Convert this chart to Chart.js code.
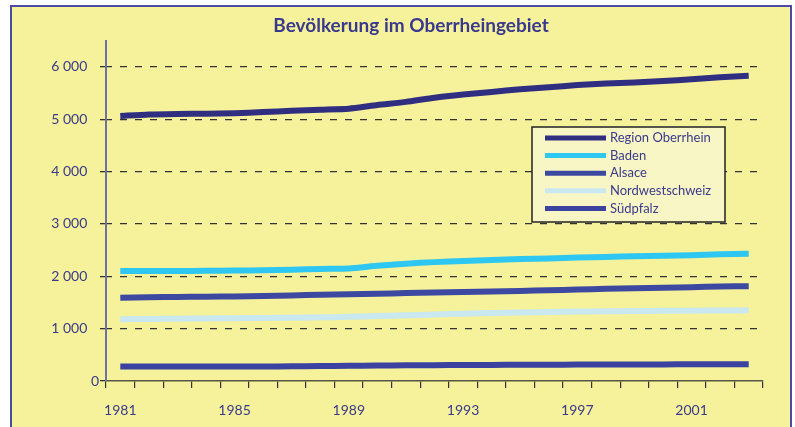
<!DOCTYPE html>
<html>
<head>
<meta charset="utf-8">
<script src="https://cdn.jsdelivr.net/npm/chart.js@4"></script>
<style>
  body { margin: 0; background: #ffffff; }
  #frame {
    position: absolute; left: 10px; top: 5px; width: 778px; height: 430px;
    background: #f6f19b; border-left: 2px solid #4b4ba3; border-top: 2px solid #4b4ba3; border-right: 2px solid #4b4ba3;
  }
  #wrap { position: absolute; left: 0; top: 0; width: 795px; height: 427px; }
</style>
</head>
<body>
<div id="frame"></div>
<div id="wrap"><canvas id="myChart"></canvas></div>
<script>
"use strict"

// years on the x axis, one label every 4 years
const years = ["1981","1982","1983","1984","1985","1986","1987","1988","1989","1990","1991","1992",
               "1993","1994","1995","1996","1997","1998","1999","2000","2001","2002","2003"];

const seriesNames = ["Region Oberrhein", "Baden", "Alsace", "Nordwestschweiz", "Südpfalz"];
const chartTitle = "Bevölkerung im Oberrheingebiet";

// population in thousands
const regionOberrhein = [5060,5090,5100,5105,5115,5135,5160,5180,5200,5270,5330,5410,5470,5520,5570,5610,5650,5680,5700,5730,5760,5800,5830];
const baden = [2100,2100,2100,2105,2110,2115,2125,2140,2150,2200,2240,2270,2290,2310,2330,2340,2360,2370,2380,2390,2400,2420,2430];
const alsace = [1590,1600,1605,1610,1615,1625,1635,1645,1655,1665,1680,1690,1700,1710,1720,1735,1745,1760,1770,1780,1790,1805,1810];
const nordwestschweiz = [1180,1185,1190,1195,1200,1205,1210,1215,1225,1240,1255,1270,1285,1300,1310,1318,1325,1330,1335,1340,1343,1347,1350];
const suedpfalz = [275,275,275,276,277,278,280,285,290,295,300,303,305,307,309,311,313,315,316,317,318,319,320];

const yTicks = [0, 1000, 2000, 3000, 4000, 5000, 6000];

const lineColors = ["#2f2e80", "#2ec7f1", "#3d49a0", "#c9e8ef", "#3b42a0"];
const navyText = "#3a3a8c";

// title is drawn by hand, it sits a bit right of the canvas middle
const titlePlugin = {
  id: "titlePlugin",
  afterDraw(chart) {
    const ctx = chart.ctx;
    ctx.save();
    ctx.font = "bold 19px Lato";
    ctx.fillStyle = navyText;
    ctx.textAlign = "center";
    ctx.textBaseline = "middle";
    ctx.fillText(chartTitle, 411, 26);
    ctx.restore();
  }
};

// little legend box inside the plot
const boxLegend = {
  id: "boxLegend",
  afterDraw(chart) {
    const ctx = chart.ctx;
    const area = chart.chartArea;
    const left = area.right - 231;
    const top = 127;
    ctx.save();
    ctx.fillStyle = "#f9f6c6";
    ctx.strokeStyle = "#222222";
    ctx.lineWidth = 1.5;
    ctx.fillRect(left, top, 193, 95);
    ctx.strokeRect(left, top, 193, 95);
    ctx.font = "13px Lato";
    ctx.textBaseline = "middle";
    for (let i = 0; i < chart.data.datasets.length; i++) {
      const ds = chart.data.datasets[i];
      const y = top + 11 + i * 17.6;
      ctx.strokeStyle = ds.borderColor;
      ctx.lineWidth = 5;
      ctx.beginPath();
      ctx.moveTo(left + 13, y);
      ctx.lineTo(left + 74, y);
      ctx.stroke();
      ctx.fillStyle = navyText;
      ctx.fillText(ds.label, left + 78, y);
    }
    ctx.restore();
  }
};

const allSeries = [regionOberrhein, baden, alsace, nordwestschweiz, suedpfalz];
const datasets = [];
for (let i = 0; i < allSeries.length; i++) {
  datasets.push({
    label: seriesNames[i],
    data: allSeries[i],
    borderColor: lineColors[i],
    backgroundColor: lineColors[i],
    borderWidth: 6,
    pointRadius: 0,
    tension: 0.2,
    borderCapStyle: "butt"
  });
}

function formatThousands(v) {
  if (v === 0) return "0";
  return String(v).replace(/\B(?=(\d{3})+(?!\d))/g, " ") + "\u2007 ";
}

const config = {
  type: "line",
  data: { labels: years, datasets: datasets },
  plugins: [boxLegend, titlePlugin],
  options: {
    responsive: false,
    animation: false,
    layout: { padding: { left: 0, right: 32, top: 40.6, bottom: 0 } },
    plugins: {
      legend: { display: false },
      tooltip: { enabled: false },
      title: { display: false }
    },
    scales: {
      x: {
        offset: true,
        border: { color: "#555544", width: 1.5 },
        grid: { offset: true, drawOnChartArea: false, tickLength: 7, color: "#333333", lineWidth: 1.2 },
        ticks: {
          autoSkip: false,
          maxRotation: 0,
          color: navyText,
          padding: 14,
          font: { family: "Lato", size: 14 },
          callback: function (val, i) { return i % 4 === 0 ? years[i] : ""; }
        },
        afterFit: function (s) { s.height = 46; }
      },
      y: {
        min: 0,
        max: 6500,
        border: { color: "#7070a8", width: 2, dash: [7, 8], dashOffset: 2 },
        grid: {
          color: function (c) { return c.tick && c.tick.value === 0 ? "rgba(0,0,0,0)" : "#333333"; },
          lineWidth: 1.3,
          tickColor: "#333333",
          tickLength: 6,
          tickBorderDash: []
        },
        ticks: {
          color: navyText,
          padding: 1,
          font: { family: "Lato", size: 14 },
          callback: function (v) { return formatThousands(v); }
        },
        afterBuildTicks: function (axis) {
          axis.ticks = yTicks.map(function (v) { return { value: v }; });
        },
        afterFit: function (s) { s.width = 106; }
      }
    }
  }
};

const canvas = document.getElementById("myChart");
canvas.width = 795;
canvas.height = 427;
const popChart = new Chart(canvas, config);
</script>
</body>
</html>
